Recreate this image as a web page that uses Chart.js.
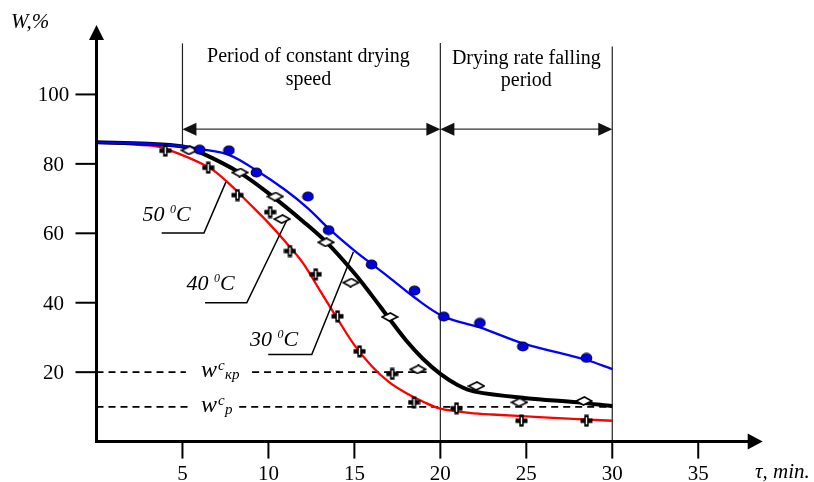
<!DOCTYPE html>
<html>
<head>
<meta charset="utf-8">
<script src="https://cdn.jsdelivr.net/npm/chart.js@4.4.1/dist/chart.umd.min.js"></script>
<style>
  body { margin: 0; background: #fff; }
  #wrap { width: 814px; height: 482px; }
</style>
</head>
<body>
<div id="wrap"><canvas id="chart" width="814" height="482"></canvas></div>
<script>
// ticks
const xTicks = [5, 10, 15, 20, 25, 30, 35];
const yTicks = [20, 40, 60, 80, 100];

// measured points
const t50 = [6.0, 7.7, 9.3, 12.3, 13.5, 16.0, 18.5, 20.2, 22.3, 24.8, 28.5];
const w50 = [84.1, 83.9, 77.5, 70.6, 60.9, 51.0, 43.5, 36.0, 34.2, 27.4, 24.1];
const t40 = [5.4, 8.35, 10.4, 10.8, 13.35, 14.8, 17.06, 18.7, 22.1, 24.6, 28.35];
const w40 = [83.9, 77.5, 70.6, 64.1, 57.4, 45.8, 35.9, 20.8, 16.0, 11.3, 11.7];
const t30 = [4.0, 6.5, 8.2, 10.1, 11.25, 12.75, 14.02, 15.3, 17.2, 18.47, 20.94, 24.72, 28.5];
const w30 = [83.8, 78.9, 71.0, 66.1, 54.9, 48.2, 36.1, 26.0, 19.5, 11.3, 9.6, 6.0, 6.0];

// fitted curves
const curveT50 = [0, 3, 5, 6, 7.7, 9.4, 11, 12.3, 13.5, 15, 16, 17, 18.5, 20.2, 22.3, 24.8, 28.5, 30];
const curveW50 = [86.2, 85.8, 85.1, 84.3, 82.6, 77.8, 72.4, 67.2, 61.4, 55, 51.2, 47.4, 41.5, 36, 32.9, 28.3, 23.5, 20.9];
const curveT40 = [0, 3, 5, 6, 8.35, 10.4, 12, 13.4, 15, 16, 17, 18, 19, 20, 21, 22, 25, 28, 30];
const curveW40 = [86.2, 85.8, 85, 83.4, 77.4, 70, 63.5, 57.3, 48.5, 42.2, 35.6, 29.2, 23.8, 19.5, 16.3, 14.4, 12.5, 11.3, 10.2];
const curveT30 = [0, 3, 4, 6.5, 7.6, 9, 10, 11, 12, 13, 14, 15, 16, 17, 18, 19, 20, 21.7, 23, 26, 30];
const curveW30 = [86.2, 85.3, 84.4, 79.1, 74.8, 68, 63, 57.5, 51.5, 43.5, 35.5, 27.8, 21.8, 17.2, 14, 11.5, 9.5, 8.3, 7.8, 7, 6];

// critical / equilibrium moisture
const wKp = 20;
const wP = 10;

const pts = (xs, ys) => xs.map((v, i) => ({ x: v, y: ys[i] }));

function marker(w, h, draw) {
  const c = document.createElement('canvas');
  c.width = w; c.height = h;
  draw(c.getContext('2d'));
  return c;
}

const dot = marker(13, 11, g => {
  g.beginPath();
  g.ellipse(6.5, 5.5, 5.3, 4.5, 0, 0, Math.PI * 2);
  g.fillStyle = '#0000e8';
  g.fill();
  g.lineWidth = 1.1;
  g.strokeStyle = '#000030';
  g.stroke();
});

const diamond = marker(18, 10, g => {
  g.beginPath();
  g.moveTo(1.2, 5); g.lineTo(9.5, 1); g.lineTo(16.8, 5); g.lineTo(8.5, 9);
  g.closePath();
  g.fillStyle = '#fff';
  g.fill();
  g.lineWidth = 1.6;
  g.strokeStyle = '#000';
  g.stroke();
});

const cross = marker(13, 13, g => {
  g.fillStyle = '#000';
  g.fillRect(4.3, 0.5, 4.4, 12);
  g.fillRect(0.5, 4.3, 12, 4.4);
  g.fillStyle = '#fff';
  g.fillRect(5.8, 3, 1.4, 7);
});

const SERIF = '"Liberation Serif", "Times New Roman", serif';

function line(ctx, a, b) {
  ctx.beginPath();
  ctx.moveTo(a[0], a[1]);
  ctx.lineTo(b[0], b[1]);
  ctx.stroke();
}

function head(ctx, tip, dx, dy, len, half) {
  // filled triangle pointing along (dx, dy)
  const bx = tip[0] - dx * len, by = tip[1] - dy * len;
  ctx.beginPath();
  ctx.moveTo(tip[0], tip[1]);
  ctx.lineTo(bx - dy * half, by + dx * half);
  ctx.lineTo(bx + dy * half, by - dx * half);
  ctx.closePath();
  ctx.fill();
}

function tempLabel(ctx, x, y, num) {
  ctx.textAlign = 'left';
  ctx.textBaseline = 'alphabetic';
  ctx.font = 'italic 22px ' + SERIF;
  ctx.fillText(num + ' ', x, y);
  let cx = x + ctx.measureText(num + ' ').width;
  ctx.font = 'italic 12px ' + SERIF;
  ctx.fillText('0', cx, y - 8);
  cx += ctx.measureText('0').width;
  ctx.font = 'italic 22px ' + SERIF;
  ctx.fillText('C', cx, y);
}

function wLabel(ctx, x, y, sub) {
  ctx.textAlign = 'left';
  ctx.textBaseline = 'alphabetic';
  ctx.font = 'italic 24px ' + SERIF;
  ctx.fillText('w', x, y);
  const cx = x + ctx.measureText('w').width;
  ctx.font = 'italic 15px ' + SERIF;
  ctx.fillText('c', cx + 1, y - 7);
  ctx.fillText(sub, cx + 8, y + 2);
}

const overlay = {
  id: 'overlay',
  beforeDatasetsDraw(chart) {
    const { ctx, scales: { x, y } } = chart;
    const P = (a, b) => [x.getPixelForValue(a), y.getPixelForValue(b)];
    ctx.save();

    // period borders
    ctx.strokeStyle = '#222';
    ctx.lineWidth = 1.2;
    line(ctx, P(5, 114.7), P(5, 84.5));
    line(ctx, P(20, 114.8), P(20, 0));
    line(ctx, P(30, 113.8), P(30, 0));

    // double arrows
    ctx.fillStyle = '#111';
    ctx.strokeStyle = '#333';
    ctx.lineWidth = 1.4;
    [[5, 20], [20, 30]].forEach(([a, b]) => {
      const p1 = P(a, 90), p2 = P(b, 90);
      line(ctx, [p1[0] + 10, p1[1]], [p2[0] - 10, p2[1]]);
      head(ctx, p1, -1, 0, 14, 6.5);
      head(ctx, p2, 1, 0, 14, 6.5);
    });

    // dashed levels
    ctx.strokeStyle = '#000';
    ctx.lineWidth = 1.6;
    ctx.setLineDash([7, 5]);
    line(ctx, P(0, wKp), P(5.2, wKp));
    line(ctx, P(9.05, wKp), P(19.2, wKp));
    line(ctx, P(0, wP), P(5.5, wP));
    line(ctx, P(8.3, wP), P(30, wP));
    ctx.setLineDash([]);
    ctx.restore();
  },
  afterDatasetsDraw(chart) {
    const { ctx, scales: { x, y } } = chart;
    const P = (a, b) => [x.getPixelForValue(a), y.getPixelForValue(b)];
    const o = P(0, 0);
    ctx.save();
    ctx.fillStyle = '#000';
    ctx.strokeStyle = '#000';

    // axes
    ctx.lineWidth = 3;
    const yTop = P(0, y.max), xEnd = P(x.max, 0);
    line(ctx, [o[0], o[1] + 1.5], [yTop[0], yTop[1] + 12]);
    line(ctx, [o[0] - 1.5, o[1]], [xEnd[0] - 12, xEnd[1]]);
    head(ctx, yTop, 0, -1, 15, 7.5);
    head(ctx, xEnd, 1, 0, 15, 8);

    // ticks
    ctx.lineWidth = 2;
    ctx.font = '21px ' + SERIF;
    ctx.textAlign = 'center';
    ctx.textBaseline = 'alphabetic';
    yTicks.forEach(v => {
      const p = P(0, v);
      line(ctx, [p[0] - 21, p[1]], p);
      ctx.fillText(String(v), p[0] - 43, p[1] + 7);
    });
    xTicks.forEach(v => {
      const p = P(v, 0);
      line(ctx, p, [p[0], p[1] + 17]);
      ctx.fillText(String(v), p[0], p[1] + 38.5);
    });

    // axis titles
    ctx.textAlign = 'left';
    ctx.font = 'italic 21px ' + SERIF;
    ctx.fillText('W,%', 11, 28);
    ctx.fillText('τ, min.', 755, 478);

    // period captions
    ctx.textAlign = 'center';
    ctx.font = '20px ' + SERIF;
    const c1 = (x.getPixelForValue(5) + x.getPixelForValue(20)) / 2 - 3;
    const c2 = (x.getPixelForValue(20) + x.getPixelForValue(30)) / 2;
    ctx.fillText('Period of constant drying', c1, y.getPixelForValue(109.3));
    ctx.fillText('speed', c1, y.getPixelForValue(102.6));
    ctx.fillText('Drying rate falling', c2, y.getPixelForValue(108.8));
    ctx.fillText('period', c2, y.getPixelForValue(102.3));

    // leaders to the curves
    ctx.lineWidth = 1.5;
    const leader = (a, b, c) => {
      ctx.beginPath();
      ctx.moveTo(...P(a[0], a[1]));
      ctx.lineTo(...P(b[0], b[1]));
      ctx.lineTo(...P(c[0], c[1]));
      ctx.stroke();
    };
    leader([3.79, 60.1], [6.25, 60.1], [7.53, 74.8]);
    leader([6.31, 40.0], [8.74, 40.0], [11.06, 63.7]);
    leader([9.99, 25.1], [12.52, 25.1], [14.94, 54.6]);

    tempLabel(ctx, 142.5, 221, '50');
    tempLabel(ctx, 186.5, 289.5, '40');
    tempLabel(ctx, 250, 345.5, '30');

    // level labels
    wLabel(ctx, 201, 376.5, 'кр');
    wLabel(ctx, 201, 411.5, 'p');

    ctx.restore();
  }
};

new Chart(document.getElementById('chart'), {
  type: 'scatter',
  data: {
    datasets: [
      { label: '30 curve', data: pts(curveT30, curveW30), showLine: true, borderColor: '#ff0000',
        borderWidth: 2.3, pointRadius: 0, tension: 0.35, order: 6 },
      { label: '40 curve', data: pts(curveT40, curveW40), showLine: true, borderColor: '#000',
        borderWidth: 4, pointRadius: 0, tension: 0.35, order: 5 },
      { label: '50 curve', data: pts(curveT50, curveW50), showLine: true, borderColor: '#0000ff',
        borderWidth: 2.3, pointRadius: 0, tension: 0.35, order: 4 },
      { label: '30', data: pts(t30, w30), pointStyle: cross, pointRadius: 5, order: 3 },
      { label: '40', data: pts(t40, w40), pointStyle: diamond, pointRadius: 5, order: 2 },
      { label: '50', data: pts(t50, w50), pointStyle: dot, pointRadius: 5, order: 1 }
    ]
  },
  options: {
    responsive: false,
    animation: false,
    layout: { padding: { left: 96.5, right: 51.3, top: 25, bottom: 40.4 } },
    plugins: { legend: { display: false }, tooltip: { enabled: false } },
    scales: {
      x: { type: 'linear', min: 0, max: 38.75, display: false },
      y: { type: 'linear', min: 0, max: 120, display: false }
    }
  },
  plugins: [overlay]
});
</script>
</body>
</html>
